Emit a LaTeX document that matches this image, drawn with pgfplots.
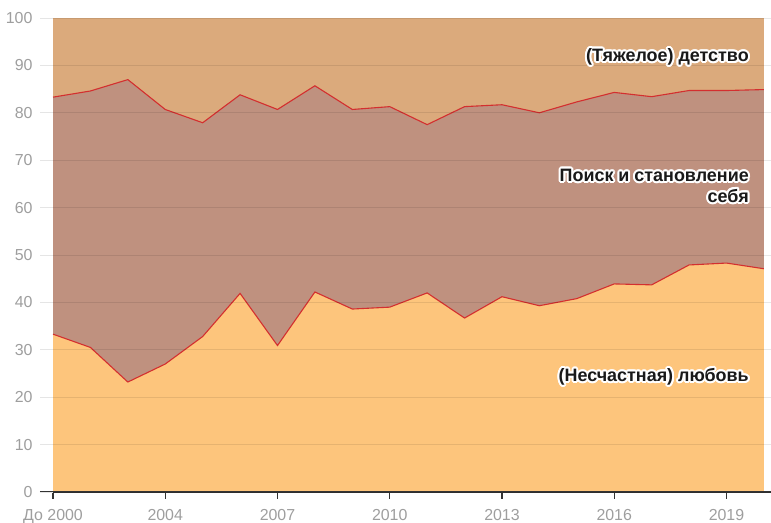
\documentclass[border=0pt]{standalone}
\usepackage{fontspec}
\setmainfont{Liberation Sans}
\usepackage{pgfplots}
\pgfplotsset{compat=1.18}
\definecolor{topc}{HTML}{DBAA7C}
\definecolor{midc}{HTML}{BF917F}
\definecolor{botc}{HTML}{FDC57C}
\definecolor{redl}{HTML}{D32F2F}
\definecolor{labgray}{HTML}{9E9E9E}
\definecolor{axisc}{HTML}{333333}
\begin{document}
\begin{tikzpicture}
\begin{axis}[
 scale only axis, width=718bp, height=474bp,
 xmin=0, xmax=19.19, ymin=0, ymax=100,
 ytick={0,10,...,100},
 xtick={0,3,...,18}, xticklabels={До 2000,2004,2007,2010,2013,2016,2019},
 axis line style={draw=none},
 ymajorgrids, grid style={black, opacity=0.09, line width=0.8bp},
 tick align=outside, major tick length=13bp,
 ytick style={draw=black!10, line width=0.8bp}, xtick style={draw=none},
 tick label style={font=\fontsize{16}{16}\selectfont, text=labgray},
 yticklabel style={xshift=-4bp},
 xticklabel style={yshift=-1bp},
 /pgf/number format/assume math mode=true,
 axis on top,
 clip=false,
]
% top area (childhood)
\addplot[fill=topc, draw=none] coordinates {(0,100) (19,100)} \closedcycle;
% middle area (search) - upper boundary
\addplot[fill=midc, draw=none] coordinates {
(0,83.3) (1,84.6) (2,87.0) (3,80.7) (4,77.9) (5,83.8) (6,80.7) (7,85.7) (8,80.7) (9,81.3)
(10,77.5) (11,81.3) (12,81.7) (13,80.0) (14,82.3) (15,84.3) (16,83.4) (17,84.7) (18,84.7) (19,84.9)} \closedcycle;
% bottom area (love)
\addplot[fill=botc, draw=none] coordinates {
(0,33.3) (1,30.5) (2,23.2) (3,27.0) (4,32.8) (5,41.9) (6,30.9) (7,42.2) (8,38.6) (9,39.0)
(10,42.0) (11,36.7) (12,41.2) (13,39.3) (14,40.8) (15,43.9) (16,43.7) (17,47.9) (18,48.3) (19,47.1)} \closedcycle;
% boundary lines
\addplot[redl, line width=1.1bp] coordinates {
(0,83.3) (1,84.6) (2,87.0) (3,80.7) (4,77.9) (5,83.8) (6,80.7) (7,85.7) (8,80.7) (9,81.3)
(10,77.5) (11,81.3) (12,81.7) (13,80.0) (14,82.3) (15,84.3) (16,83.4) (17,84.7) (18,84.7) (19,84.9)};
\addplot[redl, line width=1.1bp] coordinates {
(0,33.3) (1,30.5) (2,23.2) (3,27.0) (4,32.8) (5,41.9) (6,30.9) (7,42.2) (8,38.6) (9,39.0)
(10,42.0) (11,36.7) (12,41.2) (13,39.3) (14,40.8) (15,43.9) (16,43.7) (17,47.9) (18,48.3) (19,47.1)};
% x axis line and ticks
\draw[axisc, line width=1.3bp] ([xshift=-13bp]axis cs:0,0) -- (axis cs:19.19,0);
\pgfplotsinvokeforeach{0,3,6,9,12,15,18}{\draw[axisc, line width=1.2bp] (axis cs:#1,0) -- ++(0,-7bp);}
\coordinate (L1) at (axis cs:18.6,91.8);
\coordinate (L2) at (axis cs:18.6,64.6);
\coordinate (L3) at (axis cs:18.6,24.3);
\coordinate (SW) at (rel axis cs:0,0);
\coordinate (NE) at (rel axis cs:1,1);
\end{axis}
\tikzset{lab/.style={anchor=east, align=right, inner sep=0pt, font=\fontsize{18}{21}\selectfont\bfseries}}
\foreach \p/\t in {L1/{(Тяжелое) детство}, L2/{Поиск и становление\\себя}, L3/{(Несчастная) любовь}}{
  \foreach \a in {0,22.5,...,337.5}{
    \node[lab, text=white, shift={(\a:2bp)}] at (\p) {\t};
  }
  \node[lab, text=black!90] at (\p) {\t};
}
\pgfresetboundingbox
\path ([shift={(-53bp,-31bp)}]SW) rectangle ([shift={(0bp,18bp)}]NE);
\end{tikzpicture}
\end{document}
